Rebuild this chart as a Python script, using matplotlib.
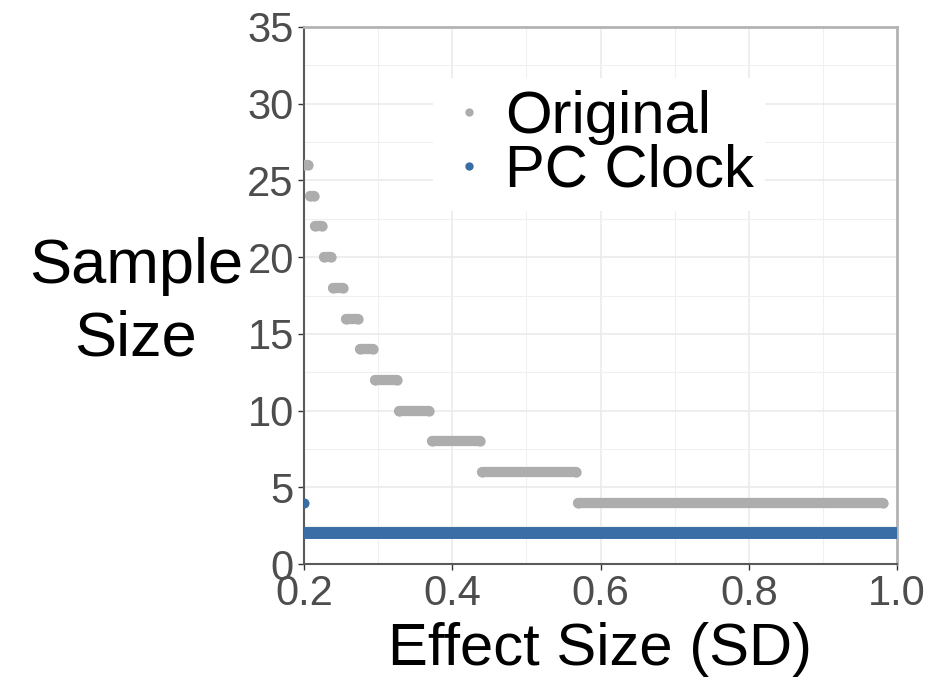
import matplotlib
matplotlib.use("Agg")
import matplotlib.pyplot as plt
from matplotlib.lines import Line2D
from matplotlib.ticker import MultipleLocator

plt.rcParams['font.family'] = ['Liberation Sans', 'DejaVu Sans']

# required sample size per effect size band (lowest / highest effect size in band)
orig_n = [26, 24, 22, 20, 18, 16, 14, 12, 10, 8, 6, 4]
orig_lo = [0.200, 0.208, 0.215, 0.227, 0.239, 0.257, 0.276, 0.296, 0.328, 0.373, 0.440, 0.570]
orig_hi = [0.205, 0.213, 0.224, 0.236, 0.253, 0.273, 0.293, 0.326, 0.369, 0.438, 0.567, 0.981]

pc_n = [4, 2]
pc_lo = [0.200, 0.200]
pc_hi = [0.200, 1.000]

gray = "#ADADAD"
blue = "#3A6DA5"

fig = plt.figure(figsize=(9.37, 6.82), dpi=100)
ax = fig.add_axes([304 / 937, 118 / 682, 593 / 937, 537 / 682])

# each band is a dense run of points -> thick rounded segment
for n, lo, hi in zip(orig_n, orig_lo, orig_hi):
    ax.plot([lo, hi], [n, n], color=gray, lw=7.4, solid_capstyle='round',
            marker='o', ms=7.4, mec='none', zorder=3)
for n, lo, hi in zip(pc_n, pc_lo, pc_hi):
    ax.plot([lo, hi], [n, n], color=blue, lw=8.6, solid_capstyle='butt',
            marker='o' if lo == hi else None, ms=7, mec='none', zorder=3)

ax.set_xlim(0.2, 1.0)
ax.set_ylim(0, 35)
ax.xaxis.set_major_locator(MultipleLocator(0.2))
ax.xaxis.set_minor_locator(MultipleLocator(0.1))
ax.yaxis.set_major_locator(MultipleLocator(5))
ax.yaxis.set_minor_locator(MultipleLocator(2.5))
ax.set_xticks([0.2, 0.4, 0.6, 0.8, 1.0])
ax.set_xticklabels(["0.2", "0.4", "0.6", "0.8", "1.0"])

ax.grid(which='major', color='#EBEBEB', lw=1.2, zorder=0)
ax.grid(which='minor', color='#F0F0F0', lw=0.8, zorder=0)
ax.set_axisbelow(True)

ax.tick_params(which='major', length=4.3, width=1, color='#333333',
               labelsize=30, labelcolor='#4D4D4D', pad=3)
ax.tick_params(which='minor', length=0)

for s in ['top', 'right']:
    ax.spines[s].set_color('#B3B3B3')
    ax.spines[s].set_linewidth(2)
for s in ['left', 'bottom']:
    ax.spines[s].set_color('#5A5A5A')
    ax.spines[s].set_linewidth(1.5)

ax.set_xlabel("Effect Size (SD)", fontsize=43, labelpad=6)
fig.text(136 / 937, 1 - 303 / 682, "Sample\nSize", fontsize=45.5, ha='center',
         va='center', linespacing=1.3)

handles = [Line2D([], [], ls='none', marker='o', ms=6, color=gray, mec='none'),
           Line2D([], [], ls='none', marker='o', ms=6, color=blue, mec='none')]
leg = ax.legend(handles, ["Original", "PC Clock"], loc='upper left',
                bbox_to_anchor=(0.2175, 0.905), fontsize=43, frameon=True,
                facecolor='white', edgecolor='none', framealpha=1, fancybox=False,
                borderaxespad=0, borderpad=0.2, handlelength=0.8,
                handletextpad=0.2, labelspacing=-0.02)
leg.set_zorder(5)

fig.savefig("out.png", dpi=100)
